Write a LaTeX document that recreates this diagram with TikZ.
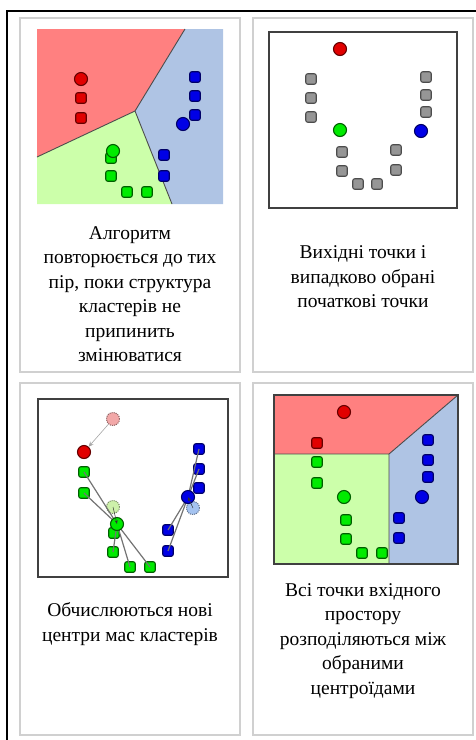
\documentclass[tikz,border=0pt]{standalone}
\usepackage{fontspec}
\setmainfont{Liberation Serif}
\usetikzlibrary{arrows.meta}
\definecolor{regred}{RGB}{255,128,128}
\definecolor{reggreen}{RGB}{204,255,170}
\definecolor{regblue}{RGB}{175,196,228}
\definecolor{panelgrey}{RGB}{208,208,208}
\definecolor{ptred}{RGB}{225,0,0}
\definecolor{ptgreen}{RGB}{0,235,0}
\definecolor{ptblue}{RGB}{0,0,230}
\definecolor{ptgrey}{RGB}{150,150,150}
\definecolor{oldred}{RGB}{242,168,168}
\definecolor{oldgreen}{RGB}{205,240,170}
\definecolor{oldblue}{RGB}{165,195,240}
\tikzset{
  panel/.style={draw=panelgrey,line width=1.2pt},
  capt/.style={align=center,inner sep=0pt,font=\fontsize{19.5}{24.5}\selectfont},
  frm/.style={draw=black!75,line width=1.1pt},
  bnd/.style={draw=black!70,line width=0.9pt},
  sq/.style={rectangle,rounded corners=2pt,minimum size=10.5pt,inner sep=0pt,line width=1.1pt},
  sqr/.style={sq,fill=ptred,draw=ptred!45!black},
  sqg/.style={sq,fill=ptgreen,draw=ptgreen!40!black},
  sqb/.style={sq,fill=ptblue,draw=ptblue!45!black},
  sqk/.style={sq,fill=ptgrey,draw=black!70},
  cen/.style={circle,minimum size=13pt,inner sep=0pt,line width=1.1pt},
  cr/.style={cen,fill=ptred,draw=ptred!45!black},
  cg/.style={cen,fill=ptgreen,draw=ptgreen!40!black},
  cb/.style={cen,fill=ptblue,draw=ptblue!45!black},
  ghost/.style={cen,densely dotted,line width=1pt},
  link/.style={draw=black!55,line width=1.2pt},
  mv/.style={-{Stealth[length=5pt,width=4.5pt]},draw=black!35,line width=0.6pt},
}

\begin{document}
\begin{tikzpicture}[x=1pt,y=-1pt]
  \useasboundingbox (0,0) rectangle (476,740);
  \draw[line width=1.3pt] (476,11) -- (7,11) -- (7,740);
  \draw[panel] (20,18) rectangle (240,372);
  \draw[panel] (253,18) rectangle (473,372);
  \draw[panel] (20,383) rectangle (240,735);
  \draw[panel] (253,383) rectangle (473,735);

  % step 4: converged clusters
  \fill[regred]   (37,29) -- (185,29) -- (135,111) -- (37,157) -- cycle;
  \fill[regblue]  (185,29) -- (223,29) -- (223,204) -- (172,204) -- (135,111) -- cycle;
  \fill[reggreen] (37,157) -- (135,111) -- (172,204) -- (37,204) -- cycle;
  \draw[bnd] (37,157) -- (135,111) -- (185,29) (135,111) -- (172,204);
  \foreach \x/\y [count=\i] in {81/98,81/118} \node[sqr] (a-r\i) at (\x,\y) {};
  \foreach \x/\y [count=\i] in {111/158,111/176,127/192,147/192} \node[sqg] (a-g\i) at (\x,\y) {};
  \foreach \x/\y [count=\i] in {195/77,195/96,195/115,164/155,164/176} \node[sqb] (a-b\i) at (\x,\y) {};
  \node[cr] (a-cr) at (81,79) {};
  \node[cg] (a-cg) at (113,151) {};
  \node[cb] (a-cb) at (183,124) {};
  \node[capt] (capa) at (130,294)
    {Алгоритм\\повторюється до тих\\пір, поки структура\\кластерів не\\припинить\\змінюватися};

  % step 1: initial points
  \draw[frm] (269,32) rectangle (457,208);
  \foreach \x/\y [count=\i] in {311/79,311/98,311/117,342/152,342/171,358/184,
                                377/184,396/150,396/170,426/77,426/95,426/112}
    \node[sqk] (b-k\i) at (\x,\y) {};
  \node[cr] (b-cr) at (340,49) {};
  \node[cg] (b-cg) at (340,130) {};
  \node[cb] (b-cb) at (421,131) {};
  \node[capt] (capb) at (363,277)
    {Вихідні точки і\\випадково обрані\\початкові точки};

  % step 3: new centroids
  \draw[frm] (38,399) rectangle (228,577);
  \node[ghost,fill=oldred,draw=oldred!60!black] (c-or) at (113,419) {};
  \node[ghost,fill=oldgreen,draw=oldgreen!60!black] (c-og) at (113,507) {};
  \node[ghost,fill=oldblue,draw=oldblue!60!black] (c-ob) at (193,508) {};
  \node[cen] (c-cg) at (117,524) {};
  \node[cen] (c-cb) at (188,497) {};
  \foreach \x/\y [count=\i] in {84/472,84/493,114/533,113/552,130/567,150/567} {
    \node[sqg] (c-g\i) at (\x,\y) {};
  }
  \foreach \x/\y [count=\i] in {199/449,199/469,199/488,168/530,168/551} {
    \node[sqb] (c-b\i) at (\x,\y) {};
  }
  \foreach \i in {1,2,4,5,6} \draw[link] (c-g\i.center) -- (c-cg.center);
  \foreach \i in {1,2,4,5} \draw[link] (c-b\i.center) -- (c-cb.center);
  \node[cr] (c-cr) at (84,452) {};
  \node[cg] at (c-cg) {};
  \node[cb] at (c-cb) {};
  \draw[mv] (c-or) -- (c-cr);
  \draw[-{Stealth[length=4pt]},draw=black!80,line width=0.5pt] (c-og.center) -- (c-cg.center);
  \draw[-{Stealth[length=4pt]},draw=black!80,line width=0.5pt] (c-ob.center) -- (c-cb.center);
  \node[capt] (capc) at (130,624)
    {Обчислюються нові\\центри мас кластерів};

  % step 2: assignment
  \fill[regred]   (274,395) -- (458,395) -- (389,454) -- (274,454) -- cycle;
  \fill[reggreen] (274,454) rectangle (389,564);
  \fill[regblue]  (389,454) -- (458,395) -- (458,564) -- (389,564) -- cycle;
  \draw[bnd] (274,454) -- (389,454) -- (458,395) (389,454) -- (389,564);
  \draw[frm] (274,395) rectangle (458,564);
  \node[sqr] (d-r1) at (317,443) {};
  \foreach \x/\y [count=\i] in {317/462,317/483,346/520,346/539,362/553,382/553} \node[sqg] (d-g\i) at (\x,\y) {};
  \foreach \x/\y [count=\i] in {428/440,428/460,428/477,399/518,399/538} \node[sqb] (d-b\i) at (\x,\y) {};
  \node[cr] (d-cr) at (344,412) {};
  \node[cg] (d-cg) at (344,497) {};
  \node[cb] (d-cb) at (422,497) {};
  \node[capt] (capd) at (363,641)
    {Всі точки вхідного\\простору\\розподіляються між\\обраними\\центроїдами};
\end{tikzpicture}
\end{document}
